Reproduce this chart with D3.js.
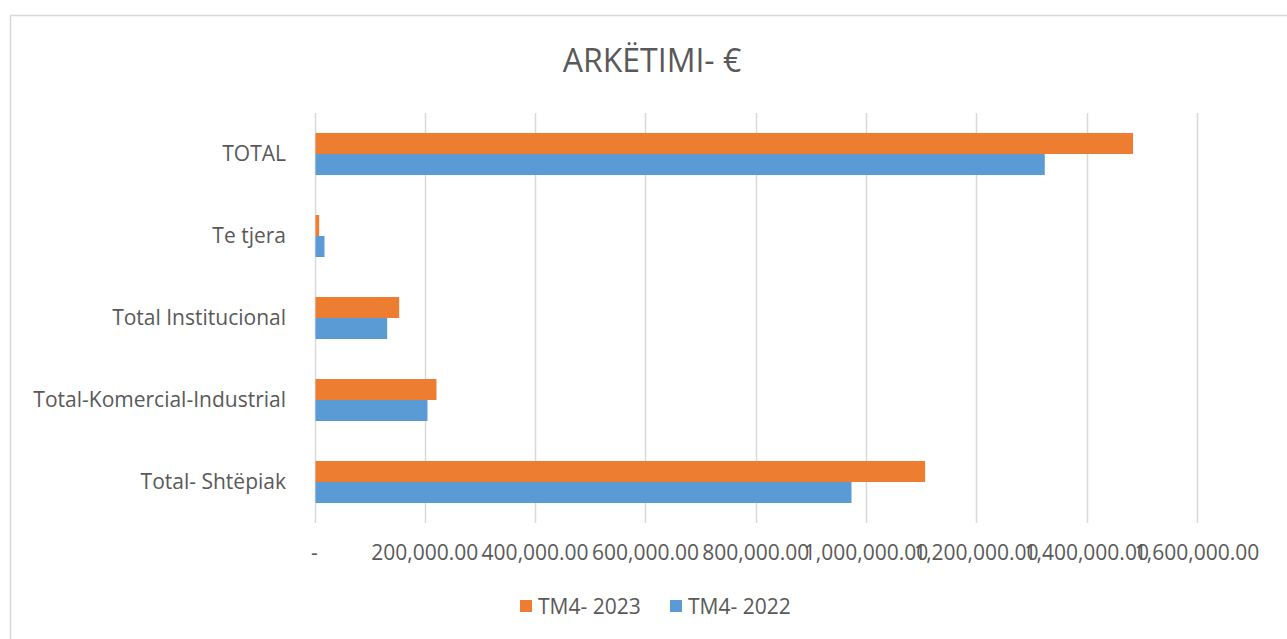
<!DOCTYPE html>
<html>
<head>
<meta charset="utf-8">
<script src="https://cdn.jsdelivr.net/npm/d3@7"></script>
<style>
  body { margin: 0; background: #fff; }
  text { font-family: "Open Sans", "Noto Sans", sans-serif; fill: #595959; }
</style>
</head>
<body>
<script>
// categories top to bottom
var categories = ['TOTAL', 'Te tjera', 'Total Institucional', 'Total-Komercial-Industrial', 'Total- Shtëpiak'];
var seriesNames = ['TM4- 2023', 'TM4- 2022'];
var values2023 = [1482200, 6700, 151700, 219300, 1105300];
var values2022 = [1322200, 16300, 129900, 203000, 971800];
var tickValues = [0, 200000, 400000, 600000, 800000, 1000000, 1200000, 1400000, 1600000];
var colors = ['#ED7D31', '#5B9BD5'];

var W = 1287, H = 639;
var svg = d3.select('body').append('svg')
  .attr('width', W)
  .attr('height', H);

// chart border
svg.append('rect')
  .attr('x', 10.5).attr('y', 15.5)
  .attr('width', 1300).attr('height', 650)
  .attr('fill', 'none')
  .attr('stroke', '#D9D9D9')
  .attr('stroke-width', 1.5);

var x = d3.scaleLinear().domain([0, 1600000]).range([314.5, 1197]);
var y = d3.scaleBand().domain(categories).range([113, 523])
  .paddingInner(40 / 82).paddingOuter(20 / 82);
var sub = d3.scaleBand().domain(seriesNames).range([0, y.bandwidth()]);

// gridlines
svg.append('g').selectAll('line').data(tickValues)
  .enter().append('line')
  .attr('x1', function(d){ return Math.round(x(d)) + 0.5; })
  .attr('x2', function(d){ return Math.round(x(d)) + 0.5; })
  .attr('y1', 113)
  .attr('y2', 523)
  .attr('stroke', '#D9D9D9')
  .attr('stroke-width', 1.5);

// bars
var rows = categories.map(function(c, i){
  return [
    { cat: c, s: seriesNames[0], v: values2023[i], col: colors[0] },
    { cat: c, s: seriesNames[1], v: values2022[i], col: colors[1] }
  ];
});
svg.append('g').selectAll('g').data(rows)
  .enter().append('g')
  .attr('transform', function(d){ return 'translate(0,' + y(d[0].cat) + ')'; })
  .selectAll('rect').data(function(d){ return d; })
  .enter().append('rect')
  .attr('x', x(0) + 1)
  .attr('y', function(d){ return sub(d.s); })
  .attr('width', function(d){ return x(d.v) - x(0); })
  .attr('height', sub.bandwidth())
  .attr('fill', function(d){ return d.col; });

// x axis labels
var fmt = d3.format(',.2f');
svg.append('g').selectAll('text').data(tickValues)
  .enter().append('text')
  .attr('x', function(d){ return x(d); })
  .attr('y', 560)
  .attr('text-anchor', 'middle')
  .style('font-size', '21px')
  .text(function(d){ return d === 0 ? '-' : fmt(d); });

// category labels
svg.append('g').selectAll('text').data(categories)
  .enter().append('text')
  .attr('x', 286)
  .attr('y', function(d){ return y(d) + y.bandwidth() / 2; })
  .attr('dy', '0.35em')
  .attr('text-anchor', 'end')
  .style('font-size', '21px')
  .text(function(d){ return d; });

// title
svg.append('text')
  .attr('x', 652).attr('y', 72)
  .attr('text-anchor', 'middle')
  .style('font-size', '32px')
  .text('ARKËTIMI- €');

// legend
var legend = svg.append('g');
var legX = [520, 670];
seriesNames.forEach(function(s, i){
  legend.append('rect')
    .attr('x', legX[i]).attr('y', 600)
    .attr('width', 12).attr('height', 12)
    .attr('fill', colors[i]);
  legend.append('text')
    .attr('x', legX[i] + 18).attr('y', 614)
    .style('font-size', '21px')
    .text(s);
});
</script>
</body>
</html>
